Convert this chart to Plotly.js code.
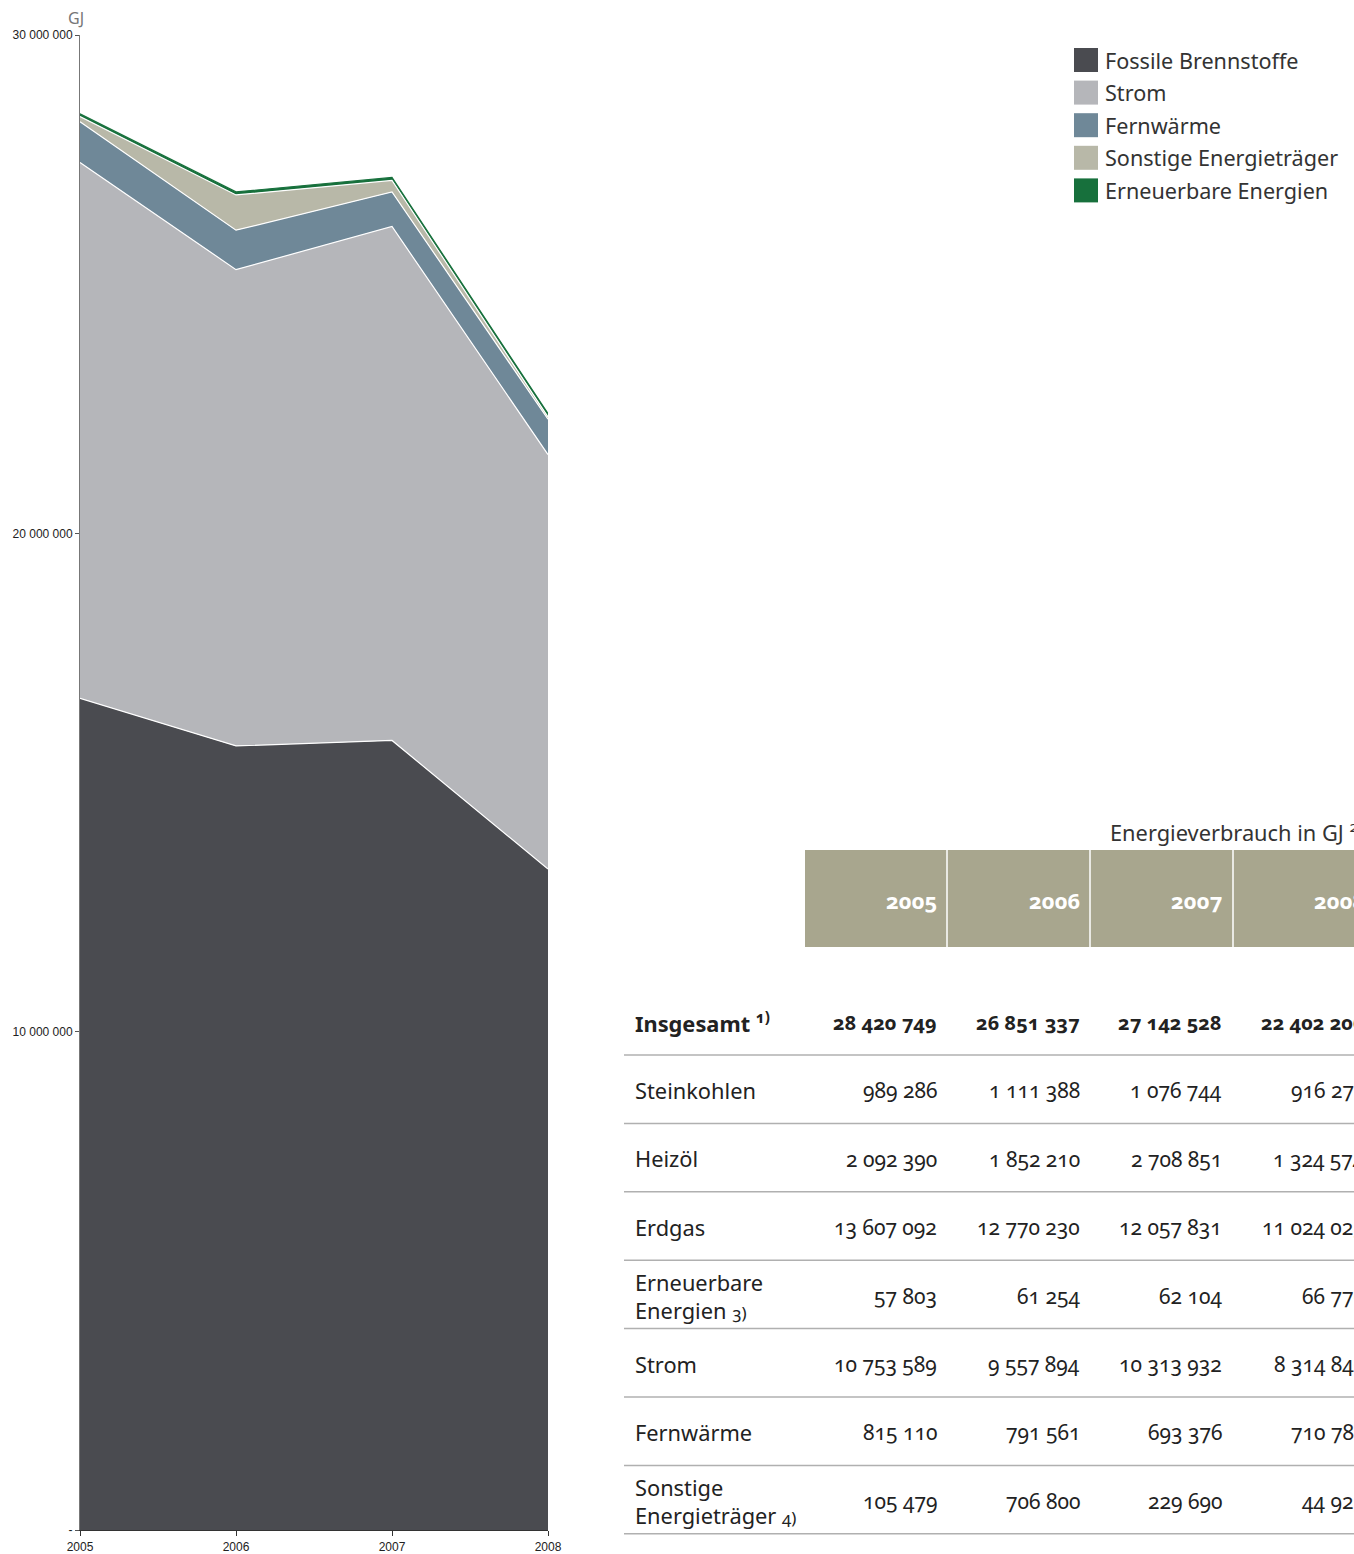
<!DOCTYPE html>
<html>
<head>
<meta charset="utf-8">
<script src="https://cdn.plot.ly/plotly-3.0.1.min.js"></script>
<style>
  html, body { margin:0; padding:0; background:#fff; overflow:hidden; }
  #chart { width:1354px; height:1554px; }
  .annotation-text { font-feature-settings: "onum" 1; }
</style>
</head>
<body>
<div id="chart"></div>
<script>
// ---------------- data ----------------
const years = [2005, 2006, 2007, 2008];
const yearLabels = ['2005', '2006', '2007', '2008'];

const insgesamt    = [28420749, 26851337, 27142528, 22402206];
const steinkohlen  = [989286, 1111388, 1076744, 916275];
const heizoel      = [2092390, 1852210, 2708851, 1324574];
const erdgas       = [13607092, 12770230, 12057831, 11024025];
const erneuerbare  = [57803, 61254, 62104, 66776];
const strom        = [10753589, 9557894, 10313932, 8314846];
const fernwaerme   = [815110, 791561, 693376, 710785];
const sonstige     = [105479, 706800, 229690, 44925];

const seriesNames = ['Fossile Brennstoffe', 'Strom', 'Fernwärme', 'Sonstige Energieträger', 'Erneuerbare Energien'];
const seriesColors = ['#4a4b50', '#b5b6ba', '#6f8898', '#b8b8a8', '#17703c'];

const yTickVals = [0, 10000000, 20000000, 30000000];
const yTickText = ['-', '10 000 000', '20 000 000', '30 000 000'];

const tableTitle = 'Energieverbrauch in GJ <sup>2)</sup>';
const rowLabels = ['<b>Insgesamt</b> <sup><b>1)</b></sup>', 'Steinkohlen', 'Heizöl', 'Erdgas',
  'Erneuerbare<br>Energien <span style="font-size:17px">3)</span>', 'Strom', 'Fernwärme',
  'Sonstige<br>Energieträger <span style="font-size:17px">4)</span>'];
const rowValues = [insgesamt, steinkohlen, heizoel, erdgas, erneuerbare, strom, fernwaerme, sonstige];

// ---------------- helpers ----------------
const W = 1354, H = 1554;
const px = x => x / W;
const py = y => 1 - y / H;
const fmt = v => String(v).replace(/\B(?=(\d{3})+(?!\d))/g, ' ');
const TXT = '"Noto Sans", "Open Sans", sans-serif';

const fossile = years.map((_, i) => steinkohlen[i] + heizoel[i] + erdgas[i]);
const stackVals = [fossile, strom, fernwaerme, sonstige, erneuerbare];

// ---------------- traces ----------------
const traces = stackVals.map((vals, k) => ({
  type: 'scatter',
  x: years,
  y: vals,
  name: seriesNames[k],
  stackgroup: 'one',
  mode: 'lines',
  line: { color: k === 4 ? '#17703c' : '#ffffff', width: 1.2 },
  fillcolor: seriesColors[k],
  hoverinfo: 'skip',
  showlegend: false
}));

// ---------------- annotations & shapes ----------------
const annotations = [];
const shapes = [];

// GJ unit label
annotations.push({ xref: 'paper', yref: 'paper', x: px(76), y: py(18), text: 'GJ', showarrow: false,
  xanchor: 'center', yanchor: 'middle', font: { family: TXT, size: 16, color: '#777' } });

// legend
const legTop = 60, legStep = 32.6;
seriesNames.forEach((n, k) => {
  const cy = legTop + k * legStep;
  shapes.push({ type: 'rect', xref: 'paper', yref: 'paper', x0: px(1074), x1: px(1098), y0: py(cy - 12), y1: py(cy + 12),
    fillcolor: seriesColors[k], line: { width: 0 } });
  annotations.push({ xref: 'paper', yref: 'paper', x: px(1103), y: py(cy), text: n, showarrow: false,
    xanchor: 'left', yanchor: 'middle', font: { family: TXT, size: 21.6, color: '#333' } });
});

// table title
annotations.push({ xref: 'paper', yref: 'paper', x: px(1108), y: py(831), text: tableTitle, showarrow: false,
  xanchor: 'left', yanchor: 'middle', font: { family: TXT, size: 21.8, color: '#333' } });

// header band
shapes.push({ type: 'rect', xref: 'paper', yref: 'paper', x0: px(805), x1: px(1520), y0: py(850), y1: py(947),
  fillcolor: '#a8a68e', line: { width: 0 }, layer: 'below' });
const colRight = [937, 1080, 1222, 1365];
const colSep = [947, 1090, 1233, 1376];
colSep.forEach(xs => shapes.push({ type: 'line', xref: 'paper', yref: 'paper', x0: px(xs), x1: px(xs), y0: py(850), y1: py(947),
  line: { color: '#ffffff', width: 1.5 } }));
yearLabels.forEach((t, j) => annotations.push({ xref: 'paper', yref: 'paper', x: px(colRight[j] + 2), y: py(900), text: '<b>' + t + '</b>',
  showarrow: false, xanchor: 'right', yanchor: 'middle', font: { family: TXT, size: 22, color: '#ffffff' } }));

// rows
const rowTop = 1022, rowStep = 68.4;
rowLabels.forEach((lab, i) => {
  const cy = rowTop + i * rowStep;
  annotations.push({ xref: 'paper', yref: 'paper', x: px(633), y: py(cy + (lab.indexOf('<br>') >= 0 ? 1 : 0)), text: lab, showarrow: false,
    xanchor: 'left', yanchor: 'middle', align: 'left', font: { family: TXT, size: 21.8, color: '#222' } });
  rowValues[i].forEach((v, j) => {
    const t = i === 0 ? '<b>' + fmt(v) + '</b>' : fmt(v);
    annotations.push({ xref: 'paper', yref: 'paper', x: px(colRight[j] + 2), y: py(cy), text: t, showarrow: false,
      xanchor: 'right', yanchor: 'middle', font: { family: TXT, size: i === 0 ? 20 : 21, color: '#222' } });
  });
  shapes.push({ type: 'line', xref: 'paper', yref: 'paper', x0: px(624), x1: px(1520), y0: py(cy + 33), y1: py(cy + 33),
    line: { color: '#b0b0b0', width: 1.5 } });
});

// ---------------- layout ----------------
const layout = {
  width: W, height: H,
  margin: { l: 0, r: 0, t: 0, b: 0 },
  paper_bgcolor: '#ffffff', plot_bgcolor: '#ffffff',
  showlegend: false,
  xaxis: {
    domain: [px(80), px(548)],
    range: [2005, 2008],
    tickvals: years, ticktext: yearLabels,
    ticks: 'outside', ticklen: 5, tickcolor: '#333', tickwidth: 1,
    showline: true, linecolor: '#333', linewidth: 1.2,
    showgrid: false, zeroline: false,
    tickfont: { family: 'Arial, "Liberation Sans", sans-serif', size: 12, color: '#222' },
    fixedrange: true
  },
  yaxis: {
    domain: [py(1530), py(35)],
    range: [0, 30000000],
    tickvals: yTickVals, ticktext: yTickText,
    ticks: 'outside', ticklen: 4, tickcolor: '#555', tickwidth: 1,
    showline: true, linecolor: '#777', linewidth: 1,
    showgrid: false, zeroline: false,
    tickfont: { family: 'Arial, "Liberation Sans", sans-serif', size: 12, color: '#222' },
    fixedrange: true
  },
  annotations: annotations,
  shapes: shapes
};

Plotly.newPlot('chart', traces, layout, { displayModeBar: false, staticPlot: true });
</script>
</body>
</html>
